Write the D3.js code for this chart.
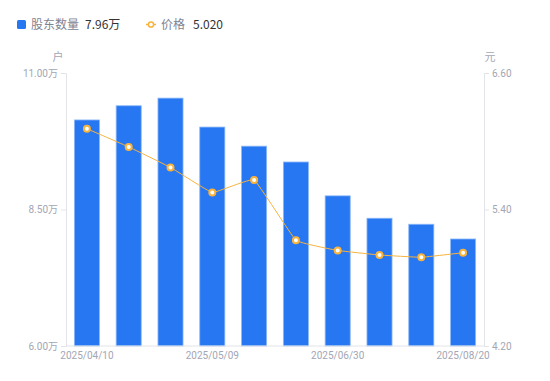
<!DOCTYPE html>
<html>
<head>
<meta charset="utf-8">
<script src="https://cdn.jsdelivr.net/npm/d3@7/dist/d3.min.js"></script>
<style>
  body { margin: 0; background: #fff; }
  text { font-family: "Noto Sans CJK SC", "Noto Sans", sans-serif; }
</style>
</head>
<body>
<div id="chart"></div>
<script>
// data
var dates = ["2025/04/10", "2025/04/18", "2025/04/30", "2025/05/09", "2025/05/20",
             "2025/05/30", "2025/06/30", "2025/07/10", "2025/07/31", "2025/08/20"];
var holders = [10.14, 10.40, 10.54, 10.01, 9.66, 9.37, 8.75, 8.34, 8.23, 7.96]; // 万户
var prices = [6.11, 5.95, 5.77, 5.55, 5.66, 5.13, 5.04, 5.00, 4.98, 5.02];
var leftTicks = [6.0, 8.5, 11.0];
var rightTicks = [4.2, 5.4, 6.6];
var shownDates = ["2025/04/10", "2025/05/09", "2025/06/30", "2025/08/20"];

var W = 550, H = 381;
var m = {left: 66, right: 66, top: 73, bottom: 35};
var barColor = "#2777f2", lineColor = "#f8b33c", axisColor = "#e3e4e8", labelColor = "#a3a6b4";

var svg = d3.select("#chart").append("svg").attr("width", W).attr("height", H);

var x = d3.scaleBand().domain(dates).range([m.left, W - m.right]).paddingInner(0.4).paddingOuter(0.2);
var yL = d3.scaleLinear().domain([6, 11]).range([H - m.bottom, m.top]);
var yR = d3.scaleLinear().domain([4.2, 6.6]).range([H - m.bottom, m.top]);

// bars
svg.append("g").selectAll("rect")
  .data(holders).enter().append("rect")
  .attr("x", function(d, i) { return x(dates[i]); })
  .attr("y", function(d) { return yL(d); })
  .attr("width", x.bandwidth())
  .attr("height", function(d) { return yL(6) - yL(d); })
  .attr("fill", barColor)
  .attr("stroke", "#8db8f7")
  .attr("stroke-width", 0.8);

// axes
var gl = svg.append("g").attr("transform", "translate(" + m.left + ",0)")
  .call(d3.axisLeft(yL).tickValues(leftTicks).tickSize(5).tickPadding(3)
    .tickFormat(function(d) { return d3.format(".2f")(d) + "万"; }));
var gr = svg.append("g").attr("transform", "translate(" + (W - m.right) + ",0)")
  .call(d3.axisRight(yR).tickValues(rightTicks).tickSize(5).tickPadding(3)
    .tickFormat(d3.format(".2f")));
var gb = svg.append("g").attr("transform", "translate(0," + (H - m.bottom) + ")")
  .call(d3.axisBottom(x).tickValues(shownDates).tickSize(0).tickPadding(6));

[gl, gr, gb].forEach(function(g) {
  g.select(".domain").attr("stroke", axisColor);
  g.selectAll(".tick line").attr("stroke", axisColor);
  g.selectAll("text").attr("fill", labelColor).style("font-size", "10px")
    .style("font-family", "Roboto, 'Noto Sans CJK SC', sans-serif");
});
gb.select(".domain").attr("d", "M" + m.left + ",0H" + (W - m.right));

// units
svg.append("text").attr("x", 58).attr("y", 61).attr("text-anchor", "middle")
  .attr("fill", labelColor).style("font-size", "11px").text("户");
svg.append("text").attr("x", 490).attr("y", 61).attr("text-anchor", "middle")
  .attr("fill", labelColor).style("font-size", "11px").text("元");

// price line
var line = d3.line()
  .x(function(d, i) { return x(dates[i]) + x.bandwidth() / 2; })
  .y(function(d) { return yR(d); })
  .curve(d3.curveCardinal.tension(0.75));
svg.append("path").datum(prices).attr("d", line)
  .attr("fill", "none").attr("stroke", lineColor).attr("stroke-width", 1);
svg.append("g").selectAll("circle")
  .data(prices).enter().append("circle")
  .attr("cx", function(d, i) { return x(dates[i]) + x.bandwidth() / 2; })
  .attr("cy", function(d) { return yR(d); })
  .attr("r", 3)
  .attr("fill", "#fff")
  .attr("stroke", lineColor)
  .attr("stroke-width", 2);

// legend
var lg = svg.append("g");
lg.append("rect").attr("x", 17).attr("y", 20).attr("width", 9).attr("height", 9).attr("rx", 1.5).attr("fill", barColor);
lg.append("text").attr("x", 31).attr("y", 29).attr("fill", "#808392").style("font-size", "12px").text("股东数量");
lg.append("text").attr("x", 85).attr("y", 29).attr("fill", "#333").style("font-size", "12px")
  .text(d3.format(".2f")(holders[holders.length - 1]) + "万");
lg.append("line").attr("x1", 146).attr("x2", 156).attr("y1", 24.5).attr("y2", 24.5).attr("stroke", lineColor).attr("stroke-width", 1.5);
lg.append("circle").attr("cx", 151).attr("cy", 24.5).attr("r", 2.6).attr("fill", "#fff").attr("stroke", lineColor).attr("stroke-width", 1.5);
lg.append("text").attr("x", 161).attr("y", 29).attr("fill", "#808392").style("font-size", "12px").text("价格");
lg.append("text").attr("x", 193).attr("y", 29).attr("fill", "#333").style("font-size", "12px")
  .text(d3.format(".3f")(prices[prices.length - 1]));
</script>
</body>
</html>
